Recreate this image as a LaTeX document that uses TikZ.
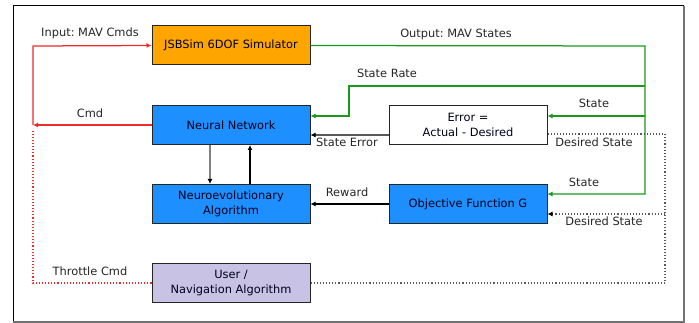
\documentclass[tikz,border=0pt]{standalone}
\usepackage{fontspec}
\setmainfont{DejaVu Sans}
\usetikzlibrary{arrows.meta}
\definecolor{boxorange}{HTML}{FFA500}
\definecolor{boxblue}{HTML}{1E8FFF}
\definecolor{boxlav}{HTML}{C8C3E5}
\definecolor{lgreen}{HTML}{1A9A1A}
\definecolor{lred}{HTML}{EE2A2A}
\tikzset{
  blk/.style={draw=black!85, line width=1pt, minimum width=158pt, minimum height=39pt, inner sep=0pt, align=center, text=black!90!blue, font=\fontsize{11.4}{15.5}\selectfont},
  lbl/.style={font=\fontsize{11.4}{14}\selectfont, text=black!85, inner sep=0pt},
  tip/.style={-{Latex[length=5pt,width=5pt]}},
  gline/.style={lgreen, line width=1.25pt},
  rline/.style={lred, line width=1.25pt},
  rdot/.style={lred, line width=1.1pt, dotted},
  kdot/.style={black!65, line width=1.1pt, dotted},
}
\frenchspacing
\begin{document}
\begin{tikzpicture}[x=1pt,y=-1pt]
\useasboundingbox (0,0) rectangle (699,323);
% frame
\draw[black, line width=1pt] (684,6) -- (13,6) -- (13,322);
\draw[black!55, line width=1.8pt] (684,6) -- (684,322) -- (13,322);
% boxes
\node[blk, fill=boxorange] (sim) at (231,45.5) {JSBSim 6DOF Simulator};
\node[blk, fill=boxblue] (nn) at (231,125) {Neural Network};
\node[blk, fill=boxblue] (neuro) at (231,204) {Neuroevolutionary\\Algorithm};
\node[blk, fill=boxlav] (user) at (231,283) {User /\\Navigation Algorithm};
\node[blk, fill=white] (err) at (468,125) {Error =\\Actual - Desired};
\node[blk, fill=boxblue] (obj) at (468,204) {Objective Function G};
% coordinates
\coordinate (cmdpt) at (33,125);
\coordinate (inpt) at (33,46);
\coordinate (thr) at (33,283);
\coordinate (thrtop) at (33,131);
\coordinate (g1) at (645,46);
\coordinate (g2) at (645,86);
\coordinate (g3) at (349,86);
\coordinate (g4) at (349,116);
\coordinate (g5) at (645,116);
\coordinate (g6) at (645,194);
\coordinate (d1) at (665,283);
\coordinate (d2) at (665,134);
\coordinate (d3) at (665,214);
% red connectors
\draw[rline, tip] (nn.west) -- (cmdpt);
\draw[rline, tip] (cmdpt) -- (inpt) -- (sim.west);
\draw[rdot] (user.west) -- (thr) -- (thrtop);
% green connectors
\draw[gline, tip] (sim.east) -- (g1) -- (g6) -- ([yshift=10pt]obj.east);
\draw[gline, tip] (g2) -- (g3) -- (g4) -- ([yshift=9pt]nn.east);
\draw[gline, tip] (g5) -- ([yshift=9pt]err.east);
% black connectors
\draw[black!65, line width=1.2pt, -{Latex[length=5pt,width=5pt,black]}] ([yshift=-10pt]err.west) -- ([yshift=-10pt]nn.east);
\draw[black, line width=1.1pt, tip] (obj.west) -- (neuro.east);
\draw[black!50, line width=1.5pt, -{Latex[length=5pt,width=5pt,black]}] ([xshift=-21pt]nn.south) -- ([xshift=-21pt]neuro.north);
\draw[black, line width=1.1pt, tip] ([xshift=19pt]neuro.north) -- ([xshift=19pt]nn.south);
% dotted desired state
\draw[kdot] (user.east) -- (d1) -- (d2) -- ([yshift=-9pt]err.east);
\draw[kdot, -{Latex[length=5pt,width=5pt,black]}] (d3) -- ([yshift=-10pt]obj.east);
% labels
\node[lbl] (linput) at (90,33) {Input: MAV Cmds};
\node[lbl] (lcmd) at (90,113) {Cmd};
\node[lbl] (lout) at (456,34) {Output: MAV States};
\node[lbl] (lrate) at (387,73) {State Rate};
\node[lbl] (lst1) at (594,103) {State};
\node[lbl] (lds1) at (594,142) {Desired State};
\node[lbl] (lserr) at (347,142) {State Error};
\node[lbl] (lrew) at (347,192) {Reward};
\node[lbl] (lst2) at (584,182) {State};
\node[lbl] (lds2) at (604,221) {Desired State};
\node[lbl] (lthr) at (90,271) {Throttle Cmd};
\end{tikzpicture}
\end{document}
